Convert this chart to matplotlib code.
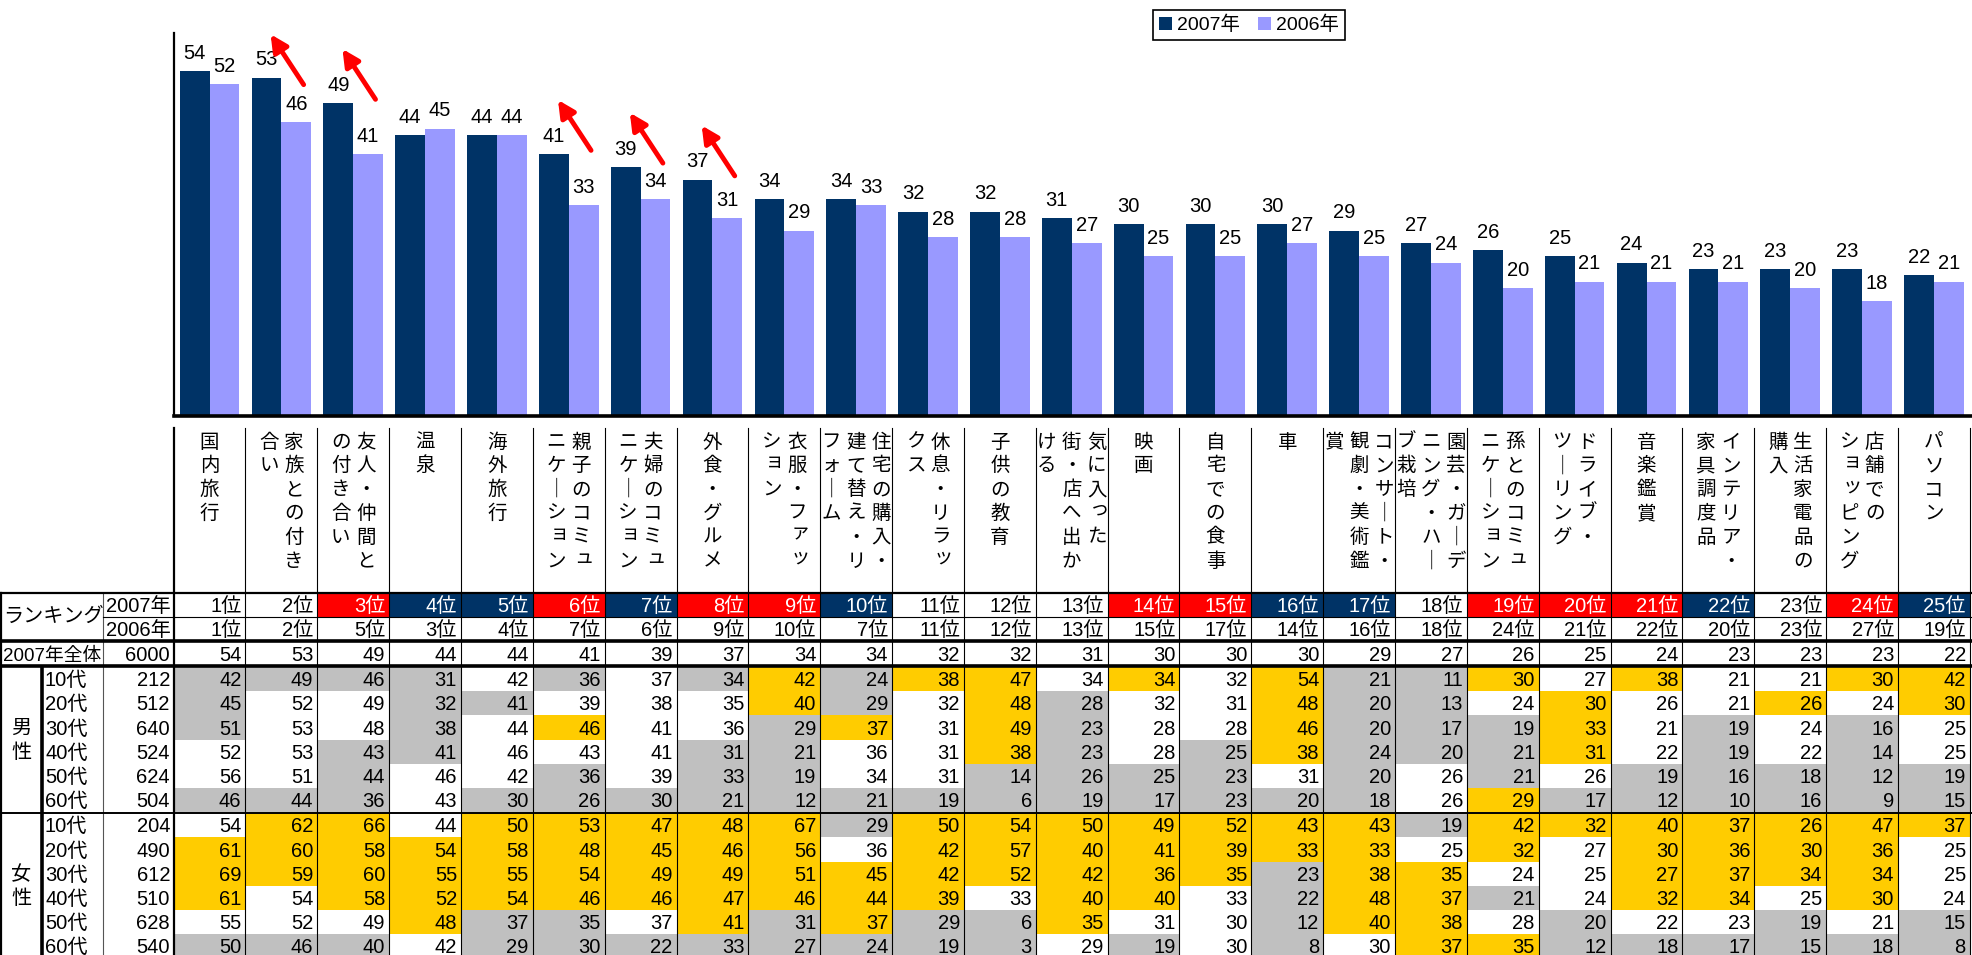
import matplotlib
matplotlib.use("Agg")
import matplotlib.pyplot as plt
from matplotlib import font_manager

# ---- data -------------------------------------------------------------
categories = ["国内旅行", "家族との付き/合い", "友人・仲間と/の付き合い", "温泉", "海外旅行",
              "親子のコミュ/ニケーション", "夫婦のコミュ/ニケーション", "外食・グルメ",
              "衣服・ファッ/ション", "住宅の購入・/建て替え・リ/フォーム", "休息・リラッ/クス",
              "子供の教育", "気に入った/街・店へ出か/ける", "映画", "自宅での食事", "車",
              "コンサート・/観劇・美術鑑/賞", "園芸・ガーデ/ニング・ハー/ブ栽培",
              "孫とのコミュ/ニケーション", "ドライブ・/ツーリング", "音楽鑑賞",
              "インテリア・/家具調度品", "生活家電品の/購入", "店舗での/ショッピング", "パソコン"]
vals_2007 = [54, 53, 49, 44, 44, 41, 39, 37, 34, 34, 32, 32, 31, 30, 30, 30, 29, 27, 26, 25, 24, 23, 23, 23, 22]
vals_2006 = [52, 46, 41, 45, 44, 33, 34, 31, 29, 33, 28, 28, 27, 25, 25, 27, 25, 24, 20, 21, 21, 21, 20, 18, 21]
rank_2007 = list(range(1, 26))
rank_2006 = [1, 2, 5, 3, 4, 7, 6, 9, 10, 7, 11, 12, 13, 15, 17, 14, 16, 18, 24, 21, 22, 20, 23, 27, 19]
total_n = 6000
ages = ["10代", "20代", "30代", "40代", "50代", "60代"]
men_n = [212, 512, 640, 524, 624, 504]
women_n = [204, 490, 612, 510, 628, 540]
men_vals = [
    [42, 49, 46, 31, 42, 36, 37, 34, 42, 24, 38, 47, 34, 34, 32, 54, 21, 11, 30, 27, 38, 21, 21, 30, 42],
    [45, 52, 49, 32, 41, 39, 38, 35, 40, 29, 32, 48, 28, 32, 31, 48, 20, 13, 24, 30, 26, 21, 26, 24, 30],
    [51, 53, 48, 38, 44, 46, 41, 36, 29, 37, 31, 49, 23, 28, 28, 46, 20, 17, 19, 33, 21, 19, 24, 16, 25],
    [52, 53, 43, 41, 46, 43, 41, 31, 21, 36, 31, 38, 23, 28, 25, 38, 24, 20, 21, 31, 22, 19, 22, 14, 25],
    [56, 51, 44, 46, 42, 36, 39, 33, 19, 34, 31, 14, 26, 25, 23, 31, 20, 26, 21, 26, 19, 16, 18, 12, 19],
    [46, 44, 36, 43, 30, 26, 30, 21, 12, 21, 19, 6, 19, 17, 23, 20, 18, 26, 29, 17, 12, 10, 16, 9, 15],
]
women_vals = [
    [54, 62, 66, 44, 50, 53, 47, 48, 67, 29, 50, 54, 50, 49, 52, 43, 43, 19, 42, 32, 40, 37, 26, 47, 37],
    [61, 60, 58, 54, 58, 48, 45, 46, 56, 36, 42, 57, 40, 41, 39, 33, 33, 25, 32, 27, 30, 36, 30, 36, 25],
    [69, 59, 60, 55, 55, 54, 49, 49, 51, 45, 42, 52, 42, 36, 35, 23, 38, 35, 24, 25, 27, 37, 34, 34, 25],
    [61, 54, 58, 52, 54, 46, 46, 47, 46, 44, 39, 33, 40, 40, 33, 22, 48, 37, 21, 24, 32, 34, 25, 30, 24],
    [55, 52, 49, 48, 37, 35, 37, 41, 31, 37, 29, 6, 35, 31, 30, 12, 40, 38, 28, 20, 22, 23, 19, 21, 15],
    [50, 46, 40, 42, 29, 30, 22, 33, 27, 24, 19, 3, 29, 19, 30, 8, 30, 37, 35, 12, 18, 17, 15, 18, 8],
]
# Y = above overall, G = below overall, W = about the same
men_flags = ["GGGGWGWGYGYYWYWYGGYWYWWYY",
             "GWWGGWWWYGWYGWWYGGWYWWYWY",
             "GWWGWYWWGYWYGWWYGGGYWGWGW",
             "WWGGWWWGGWWYGWGYGGGYWGWGW",
             "WWGWWGWGGWWGGGGWGWGWGGGGG",
             "GGGWGGGGGGGGGGGGGWYGGGGGG"]
women_flags = ["WYYWYYYYYGYYYYYYYGYYYYYYY",
               "YYYYYYYYYWYYYYYYYWYWYYYYW",
               "YYYYYYYYYYYYYYYGYYWWYYYYW",
               "YWYYYYYYYYYWYYWGYYGWYYWYW",
               "WWWYGGWYGYGGYWWGYYWGWWGWG",
               "GGGWGGGGGGGGWGWGWYYGGGGGG"]
arrow_items = [1, 2, 5, 6, 7]

# ---- style ------------------------------------------------------------
names = {f.name for f in font_manager.fontManager.ttflist}
num_font = "Liberation Sans Narrow" if "Liberation Sans Narrow" in names else "Liberation Sans"
JP = "Noto Sans CJK JP"
plt.rcParams["font.family"] = [num_font, JP]

NAVY = "#003366"
LIGHT = "#9999FF"
flag_color = {"Y": "#FFCC00", "G": "#C0C0C0", "W": "white"}

W, H = 1972, 955
X0, CW = 173.6, 71.85         # left edge of first column and column width (px)
BASE, TOP = 415.7, 33.0       # bar baseline and axis top (px)
ncol = len(categories)

fig = plt.figure(figsize=(W / 100, H / 100), dpi=100)

# table / label axes: x in column units, y in pixels
ax_t = fig.add_axes([0, 0, 1, 1])
ax_t.set_xlim(-X0 / CW, (W - X0) / CW)
ax_t.set_ylim(H, 0)
ax_t.axis("off")


def u(px):
    return (px - X0) / CW


# bar axes
ax = fig.add_axes([X0 / W, 1 - BASE / H, (W - X0) / W, (BASE - TOP) / H])
ax.patch.set_visible(False)
x = [i + 0.5 for i in range(ncol)]
bw = 0.415
b1 = ax.bar([v - bw / 2 for v in x], vals_2007, width=bw, color=NAVY, label="2007年")
b2 = ax.bar([v + bw / 2 for v in x], vals_2006, width=bw, color=LIGHT, label="2006年")
ax.set_xlim(0, (W - X0) / CW)
ax.set_ylim(0, 60)
ax.set_xticks([])
ax.set_yticks([])
for s in ["top", "right"]:
    ax.spines[s].set_visible(False)
ax.spines["left"].set_linewidth(1.6)
ax.spines["bottom"].set_linewidth(2.6)

for bars, vals in [(b1, vals_2007), (b2, vals_2006)]:
    for r, v in zip(bars, vals):
        ax.annotate(str(v), (r.get_x() + r.get_width() / 2, v), xytext=(0, 6),
                    textcoords="offset points", ha="center", va="bottom", fontsize=14.5)

for i in arrow_items:
    tip_y = min(vals_2007[i] + 8.5, 59.8)
    ax.annotate("", xy=(i + 0.5 - 0.15, tip_y), xytext=(i + 0.5 + 0.31, tip_y - 7.9),
                arrowprops=dict(arrowstyle="-|>", color="red", lw=3.5, mutation_scale=25,
                                shrinkA=0, shrinkB=0),
                annotation_clip=False)

leg = ax.legend([b1, b2], ["2007年", "2006年"], loc="upper left",
                bbox_to_anchor=(1153 / W, 1 - 10 / H), bbox_transform=fig.transFigure,
                ncol=2, frameon=True, fancybox=False, edgecolor="black", framealpha=1,
                fontsize=14, handlelength=0.7, handleheight=0.7, handletextpad=0.25,
                columnspacing=0.9, borderpad=0.3, borderaxespad=0)
leg.get_frame().set_linewidth(1.2)

# ---- category labels (vertical, right to left) --------------------------
pitch_x = 25.0 / CW
y_char0, dy_char = 442.0, 23.8
small = "ッョュァィャっ"
for i, lab in enumerate(categories):
    cols = lab.split("/")
    n = len(cols)
    for k, col in enumerate(cols):
        xc = i + 0.5 + (n - 1) / 2 * pitch_x - k * pitch_x
        for m, ch in enumerate(col):
            xx, yy = xc, y_char0 + m * dy_char
            if ch in small:
                xx += 3 / CW
                yy -= 4
            ax_t.text(xx, yy, "｜" if ch == "ー" else ch, ha="center", va="center",
                      fontsize=14, family=JP)

# ---- table --------------------------------------------------------------
R0, R1, R2 = 592.5, 616.5, 640.5     # ranking rows
T0, T1 = 641.5, 665.5                 # total row
M0, RH = 667.0, 24.2                  # first age row and row height
F0 = M0 + 6 * RH + 1
PAD = 4 / CW
FS = 14.5


def cell_text(xr, yc, s, color="black", ha="right", size=FS):
    ax_t.text(xr, yc + 7, s, ha=ha, va="baseline", fontsize=size, color=color,
              family=[num_font, JP])


for j in range(ncol):
    r7, r6 = rank_2007[j], rank_2006[j]
    fc = "red" if r6 > r7 else (NAVY if r6 < r7 else "white")
    ax_t.add_patch(plt.Rectangle((j, R0), 1, R1 - R0, facecolor=fc, edgecolor="none"))
    cell_text(j + 1 - PAD, (R0 + R1) / 2, f"{r7}位", color="black" if fc == "white" else "white")
    cell_text(j + 1 - PAD, (R1 + R2) / 2, f"{r6}位")
    cell_text(j + 1 - PAD, (T0 + T1) / 2, str(vals_2007[j]))

for top, vals, flags, ns, sex in [(M0, men_vals, men_flags, men_n, "男性"),
                                  (F0, women_vals, women_flags, women_n, "女性")]:
    for r in range(6):
        y0 = top + r * RH
        yc = y0 + RH / 2
        for j in range(ncol):
            ax_t.add_patch(plt.Rectangle((j, y0), 1, RH, facecolor=flag_color[flags[r][j]],
                                         edgecolor="none"))
            cell_text(j + 1 - PAD, yc, str(vals[r][j]))
        cell_text(u(45), yc, ages[r], ha="left")
        cell_text(u(170), yc, str(ns[r]))
    mid = top + 3 * RH
    ax_t.text(u(21), mid - 11, sex[0], ha="center", va="center", fontsize=FS, family=JP)
    ax_t.text(u(21), mid + 13, sex[1], ha="center", va="center", fontsize=FS, family=JP)

# header cells
ax_t.text(u(3), (R0 + R2) / 2, "ランキング", ha="left", va="center", fontsize=FS, family=JP)
cell_text(u(106), (R0 + R1) / 2, "2007年", ha="left")
cell_text(u(106), (R1 + R2) / 2, "2006年", ha="left")
cell_text(u(3), (T0 + T1) / 2, "2007年全体", ha="left", size=13.5)
cell_text(u(170), (T0 + T1) / 2, str(total_n))

# grid lines
xr = u(W)
for j in range(ncol + 1):
    ax_t.plot([j, j], [428, H], color="black", lw=1.6 if j == 0 else 0.8, zorder=3)
ax_t.plot([u(1), u(1)], [R0, H], color="black", lw=1.6, zorder=3)
ax_t.plot([u(42), u(42)], [T1 + 1, H], color="black", lw=2.6, zorder=3)
ax_t.plot([u(103), u(103)], [R0, H], color="#555555", lw=0.8, zorder=3)
ax_t.plot([u(0), xr], [R0, R0], color="black", lw=1.6, zorder=3)
ax_t.plot([u(103), xr], [R1, R1], color="black", lw=0.8, zorder=3)
ax_t.plot([u(0), xr], [R2 + 0.5, R2 + 0.5], color="black", lw=2.6, zorder=3)
ax_t.plot([u(0), xr], [T1 + 0.8, T1 + 0.8], color="black", lw=2.6, zorder=3)
ax_t.plot([u(0), xr], [F0 - 0.5, F0 - 0.5], color="black", lw=1.4, zorder=3)

fig.savefig("out.png", dpi=100)
